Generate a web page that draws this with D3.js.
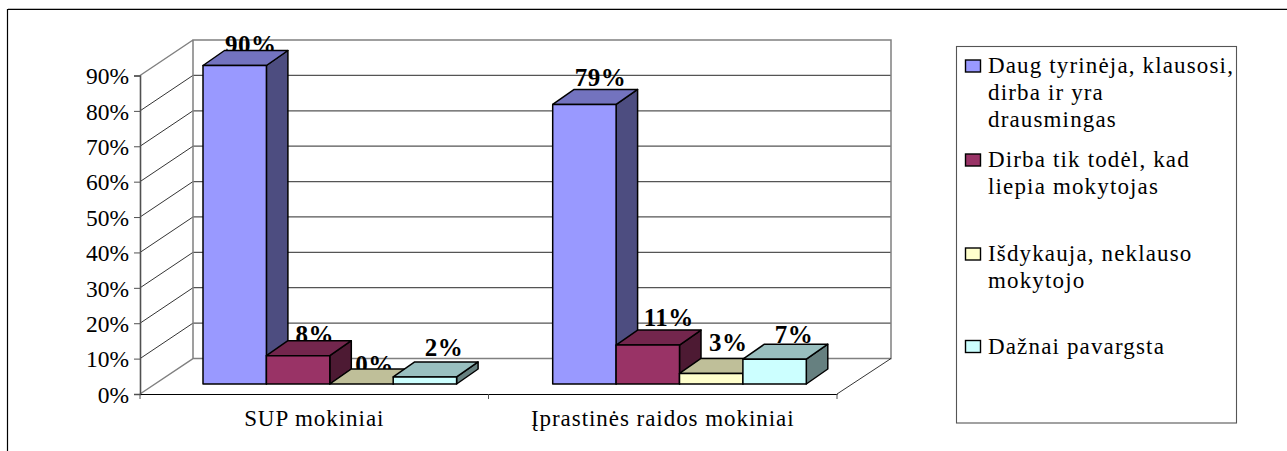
<!DOCTYPE html>
<html><head><meta charset="utf-8">
<script src="https://cdn.jsdelivr.net/npm/d3@7/dist/d3.min.js"></script>
<style>html,body{margin:0;padding:0;background:#fff}svg{display:block}text{font-family:"Liberation Serif",serif;fill:#000}</style>
</head><body><svg id="c" width="1287" height="451"></svg>
<script>
const categories = ["SUP mokiniai", "Įprastinės raidos mokiniai"];
const seriesNames = [
  ["Daug tyrinėja, klausosi,", "dirba ir yra", "drausmingas"],
  ["Dirba tik todėl, kad", "liepia mokytojas"],
  ["Išdykauja, neklauso", "mokytojo"],
  ["Dažnai pavargsta"]
];
const supValues = [90, 8, 0, 2];
const typicalValues = [79, 11, 3, 7];
const valuesByCategory = [supValues, typicalValues];
const frontColors = ["#9999ff", "#993366", "#ffffcc", "#ccffff"];
const topColors = ["#7373bf", "#73264d", "#bfbf99", "#99bfbf"];
const sideColors = ["#4d4d80", "#4d1a33", "#808066", "#668080"];
const ticks = [0, 10, 20, 30, 40, 50, 60, 70, 80, 90];

// label nudges relative to each bar (layout only)
const labelNudgeX = [[16, 16.7, 13, 19], [16, 21, 17, 19.5]];
const labelNudgeY = [[2, 2, 4, -5.5], [-3.5, -4, -7, -1]];

const svg = d3.select("#c");
const fmt = d => d + "%";
const y = d3.scaleLinear().domain([0, 90]).range([394, 75.5]);
const x = d3.scaleBand().domain(categories).range([140, 837]);
const wall = { dx: 53, dy: -35.5 };
const depth = { dx: 21.5, dy: -15 };
const barW = 63.4, barLift = 10, barInset = [63, 64.2];
const yBar = v => y(v) - barLift;
const gridTop = y(90) + wall.dy;
const floorBack = y(0) + wall.dy;

// frame: only the top and left edges exist
svg.append("path").attr("d", "M7.5,451V9.5H1287").attr("fill", "none").attr("stroke", "#000").attr("stroke-width", 1.2);
svg.append("path").attr("d", "M8,8.5H1287").attr("fill", "none").attr("stroke", "#bbb").attr("stroke-width", 1);

const gray = "#808080";
// gridlines: diagonal part on the side wall, horizontal on the back wall
svg.append("g").selectAll("path").data(ticks.slice(1, -1)).join("path")
  .attr("fill", "none").attr("stroke", "#000").attr("stroke-width", 0.8)
  .attr("d", d => `M140,${y(d)}L193,${y(d)+wall.dy}`);
svg.append("g").selectAll("path").data(ticks.slice(1, -1)).join("path")
  .attr("fill", "none").attr("stroke", "#555").attr("stroke-width", 1.2)
  .attr("d", d => `M193,${y(d)+wall.dy}H891`);
// walls
svg.append("path")
  .attr("d", `M140,${y(0)}L193,${floorBack}V${gridTop}H891V${floorBack}H193M140,${y(90)}L193,${gridTop}`)
  .attr("fill", "none").attr("stroke", gray).attr("stroke-width", 1.5);
svg.append("path").attr("d", `M891,${floorBack}L837,${y(0)}`)
  .attr("fill", "none").attr("stroke", "#000").attr("stroke-width", 0.8);

// y axis
const yAxis = d3.axisLeft(y).tickValues(ticks).tickFormat(fmt).tickSize(6).tickPadding(5);
const ya = svg.append("g").attr("transform", "translate(140,0)").call(yAxis);
ya.select(".domain").attr("stroke", "#505050").attr("stroke-width", 1.6);
ya.selectAll("line").attr("stroke", "#505050");
ya.selectAll("text").style("font-size", "23.5px").attr("dy", "0.35em");

// x axis
const xAxis = d3.axisBottom(x).tickValues(categories).tickFormat(d => d).tickSize(0).tickPadding(16);
const xa = svg.append("g").attr("transform", `translate(0,${y(0)})`).call(xAxis);
xa.select(".domain").attr("stroke", "#000").attr("stroke-width", 1);
xa.selectAll("text").style("font-size", "23px").attr("dy", "0.71em").attr("letter-spacing", "0.95px");
svg.append("g").selectAll("line").data([140, 488.5, 837]).join("line")
  .attr("x1", d => d).attr("x2", d => d).attr("y1", y(0)).attr("y2", y(0) + 5).attr("stroke", "#505050");

// value labels first: the bars overlap them
categories.forEach((c, ci) => {
  valuesByCategory[ci].forEach((v, i) => {
    svg.append("text")
      .attr("x", x(c) + barInset[ci] + barW * i + barW / 2 + labelNudgeX[ci][i])
      .attr("y", yBar(v) + depth.dy + labelNudgeY[ci][i])
      .attr("text-anchor", "middle")
      .style("font-size", "25px").style("font-weight", "bold").attr("letter-spacing", "0.5px")
      .text(fmt(v));
  });
});

// bars
categories.forEach((c, ci) => {
  const group = svg.append("g");
  valuesByCategory[ci].forEach((v, i) => {
    const x0 = x(c) + barInset[ci] + barW * i, x1 = x0 + barW;
    const yt = yBar(v), yb = yBar(0);
    const add = (d, f) => group.append("path").attr("d", d).attr("fill", f)
      .attr("stroke", "#000").attr("stroke-width", 1.5).attr("stroke-linejoin", "round");
    add(`M${x1},${yb}L${x1+depth.dx},${yb+depth.dy}V${yt+depth.dy}L${x1},${yt}Z`, sideColors[i]);
    add(`M${x0},${yt}L${x0+depth.dx},${yt+depth.dy}H${x1+depth.dx}L${x1},${yt}Z`, topColors[i]);
    if (v > 0) add(`M${x0},${yb}V${yt}H${x1}V${yb}Z`, frontColors[i]);
  });
});

// legend
svg.append("rect").attr("x", 956.5).attr("y", 46.5).attr("width", 280).attr("height", 376.5)
  .attr("fill", "#fff").attr("stroke", "#555").attr("stroke-width", 1.1);
const legendCenter = [66, 160, 254, 346.5];
seriesNames.forEach((lines, i) => {
  svg.append("rect").attr("x", 965.5).attr("y", legendCenter[i] - 6).attr("width", 15).attr("height", 12)
    .attr("fill", frontColors[i]).attr("stroke", "#000").attr("stroke-width", 1.4);
  const t = svg.append("text").style("font-size", "23px").attr("letter-spacing", "1.15px");
  lines.forEach((l, j) => t.append("tspan").attr("x", 988).attr("y", legendCenter[i] + 7 + j * 27).text(l));
});
</script></body></html>
